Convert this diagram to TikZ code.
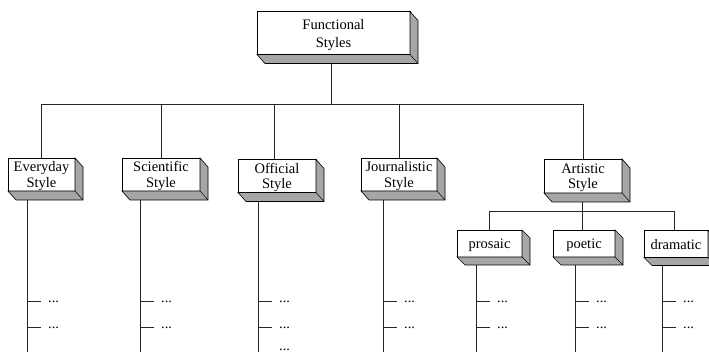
\documentclass[tikz,border=0pt]{standalone}
\usepackage{fontspec}
\setmainfont{Liberation Serif}
\usetikzlibrary{calc,backgrounds}
\tikzset{
  x=1pt, y=-1pt,
  stylebox/.style={draw=black, line width=0.6pt, fill=white, inner sep=0pt, outer sep=0pt,
    align=center, text depth=0pt, font=\fontsize{14.5}{15.5}\selectfont},
  face/.style={fill=black!35, draw=black, line width=0.6pt, line join=miter},
  crease/.style={draw=black, line width=0.5pt},
  conn/.style={draw=black!85, line width=0.6pt},
  dotlabel/.style={anchor=base west, inner sep=0pt, font=\fontsize{14.5}{15.5}\selectfont},
}
\newcommand\extrude[2]{%
  \filldraw[face] (#1.north east) -- ++(#2) -- ($(#1.south east)+(#2)$) -- ($(#1.south west)+(#2)$)
    -- (#1.south west) -- (#1.south east) -- cycle;
  \draw[crease] (#1.south east) -- ++(#2);}
% branch: node name, x offset of line from south west
\newcommand\branch[2]{%
  \coordinate (#1-top) at ([xshift=#2pt]#1.south west);
  \coordinate (#1-t1) at (#1-top |- 0,301);
  \coordinate (#1-t2) at (#1-top |- 0,327);
  \coordinate (#1-end) at (#1-top |- 0,356);
  \begin{scope}[on background layer]
    \draw[conn] (#1-top) -- (#1-end);
  \end{scope}
  \draw[conn] (#1-t1) -- ++(14,0) coordinate (#1-d1);
  \draw[conn] (#1-t2) -- ++(14,0) coordinate (#1-d2);
  \node[dotlabel] at ([xshift=7pt,yshift=-1.2pt]#1-d1) {...};
  \node[dotlabel] at ([xshift=7pt,yshift=-1.2pt]#1-d2) {...};}
\begin{document}
\begin{tikzpicture}
\clip (0,0) rectangle (709,352);
\begin{scope}[on background layer]
  \fill[white] (0,0) rectangle (709,352);
\end{scope}

% main box
\node[stylebox, minimum width=153pt, minimum height=43pt,
  font=\fontsize{14.5}{18}\selectfont] (fs) at (333.5,33) {Functional\\Styles};
\extrude{fs}{8,9}

% second level
\node[stylebox, minimum width=67pt, minimum height=33pt] (ev) at (41.5,174.5) {Everyday\\Style};
\node[stylebox, minimum width=78pt, minimum height=33pt] (sc) at (161,174.5) {Scientific\\Style};
\node[stylebox, minimum width=78pt, minimum height=33pt] (of) at (277,176) {Official\\Style};
\node[stylebox, minimum width=76pt, minimum height=33pt] (jo) at (399,174.5) {Journalistic\\Style};
\node[stylebox, minimum width=78pt, minimum height=34pt] (ar) at (583,176) {Artistic\\Style};
\foreach \n in {ev,sc,of,jo,ar} {\extrude{\n}{8,9}}

% third level
\node[stylebox, minimum width=65pt, minimum height=27pt] (pr) at (489.5,243.5) {prosaic};
\node[stylebox, minimum width=62pt, minimum height=27pt] (po) at (584,243.5) {poetic};
\node[stylebox, minimum width=64pt, minimum height=27pt] (dr) at (676,244) {dramatic};
\foreach \n in {pr,po,dr} {\extrude{\n}{8,8}}

% connectors (behind the boxes)
\coordinate (fsj) at (331,104);
\coordinate (arj) at (582,211);
\begin{scope}[on background layer]
  \draw[conn] (fs.south -| fsj) -- (fsj);
  \draw[conn] (ev.north) |- (ar.north |- fsj) -- (ar.north);
  \draw[conn] (sc.north) -- (sc.north |- fsj);
  \draw[conn] ([xshift=-3pt]of.north) -- ([xshift=-3pt]of.north |- fsj);
  \draw[conn] (jo.north) -- (jo.north |- fsj);
  \draw[conn] (ar.south -| arj) -- (arj);
  \draw[conn] (pr.north) |- ([xshift=-2pt]dr.north |- arj) -- ([xshift=-2pt]dr.north);
  \draw[conn] ([xshift=-2pt]po.north) -- ([xshift=-2pt]po.north |- arj);
\end{scope}

% branches with ellipses
\branch{ev}{19}
\branch{sc}{18}
\branch{of}{20}
\branch{jo}{22}
\branch{pr}{19}
\branch{po}{22}
\branch{dr}{18}
\node[dotlabel] (of-d3) at ([xshift=21pt]of-top |- 0,351) {...};
\end{tikzpicture}
\end{document}
